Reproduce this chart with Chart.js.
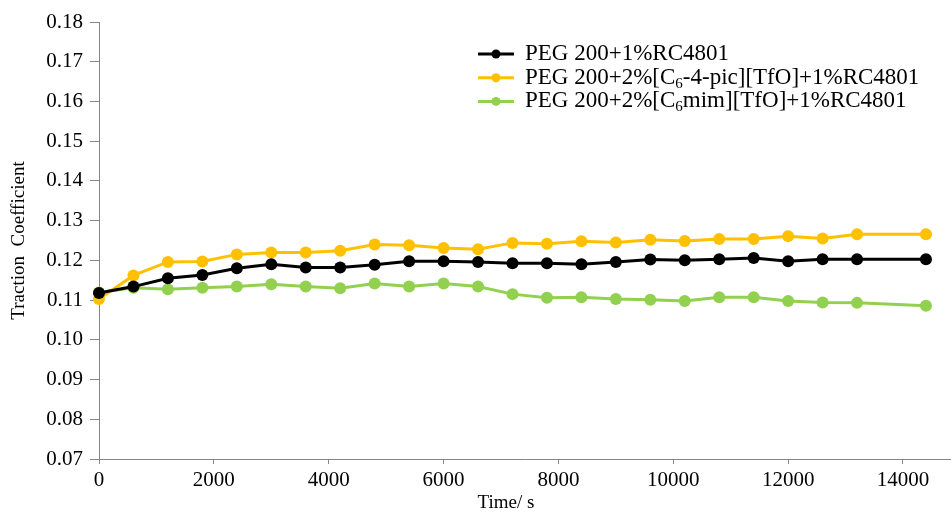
<!DOCTYPE html>
<html>
<head>
<meta charset="utf-8">
<script src="https://cdn.jsdelivr.net/npm/chart.js@4.4.0/dist/chart.umd.min.js"></script>
<style>
  html, body { margin: 0; padding: 0; background: #fff; }
  #wrap { width: 951px; height: 514px; }
</style>
</head>
<body>
<div id="wrap"><canvas id="c" width="951" height="514"></canvas></div>
<script>
// time in seconds (no reading at 13800 s)
const times = [0, 600, 1200, 1800, 2400, 3000, 3600, 4200, 4800, 5400, 6000, 6600,
  7200, 7800, 8400, 9000, 9600, 10200, 10800, 11400, 12000, 12600, 13200, 14400];

const peg = [0.1118, 0.1134, 0.1155, 0.1163, 0.1180, 0.1190, 0.1182, 0.1182, 0.1189, 0.1198, 0.1198, 0.1196,
  0.1193, 0.1193, 0.1190, 0.1196, 0.1202, 0.1200, 0.1203, 0.1206, 0.1198, 0.1203, 0.1203, 0.1203];

const pic = [0.1103, 0.1162, 0.1196, 0.1197, 0.1215, 0.1220, 0.1220, 0.1224, 0.1240, 0.1238, 0.1231, 0.1228,
  0.1244, 0.1242, 0.1248, 0.1245, 0.1252, 0.1249, 0.1254, 0.1254, 0.1261, 0.1255, 0.1266, 0.1266];

const mim = [0.1119, 0.1131, 0.1127, 0.1131, 0.1134, 0.1140, 0.1134, 0.1130, 0.1142, 0.1134, 0.1142, 0.1134,
  0.1115, 0.1106, 0.1107, 0.1103, 0.1101, 0.1098, 0.1107, 0.1107, 0.1098, 0.1094, 0.1093, 0.1086];

// "_{x}" marks a subscript in the legend text
const legendLabels = [
  "PEG 200+1%RC4801",
  "PEG 200+2%[C_{6}-4-pic][TfO]+1%RC4801",
  "PEG 200+2%[C_{6}mim][TfO]+1%RC4801",
];
const colors = ["#000000", "#FFC000", "#92D050"];
const xTicks = [0, 2000, 4000, 6000, 8000, 10000, 12000, 14000];

const serif = "'Liberation Serif', 'Times New Roman', serif";
const axisColor = "#868686";

const series = [peg, pic, mim];

const legendPlugin = {
  id: "excelLegend",
  afterDraw(chart) {
    const ctx = chart.ctx;
    ctx.save();
    legendLabels.forEach((label, i) => {
      const y = 54 + i * 23.7;
      ctx.strokeStyle = colors[i];
      ctx.lineWidth = 3;
      ctx.beginPath();
      ctx.moveTo(478, y);
      ctx.lineTo(514, y);
      ctx.stroke();
      ctx.fillStyle = colors[i];
      ctx.beginPath();
      ctx.arc(496, y, 4.5, 0, Math.PI * 2);
      ctx.fill();

      let x = 525;
      ctx.fillStyle = "#000";
      ctx.textBaseline = "middle";
      label.split(/(_\{[^}]*\})/).forEach((part) => {
        if (!part) return;
        const sub = part.match(/^_\{([^}]*)\}$/);
        if (sub) {
          ctx.font = "15px " + serif;
          ctx.fillText(sub[1], x, y + 6);
          x += ctx.measureText(sub[1]).width;
        } else {
          ctx.font = "23px " + serif;
          ctx.fillText(part, x, y);
          x += ctx.measureText(part).width;
        }
      });
    });
    ctx.restore();
  },
};

new Chart(document.getElementById("c"), {
  type: "line",
  data: {
    datasets: series.map((vals, i) => ({
      label: legendLabels[i].replace("_{6}", "₆"),
      data: vals.map((v, j) => ({ x: times[j], y: v })),
      borderColor: colors[i],
      backgroundColor: colors[i],
      borderWidth: 3,
      pointRadius: 6,
      pointBorderWidth: 0,
      tension: 0,
      clip: false,
    })),
  },
  options: {
    responsive: false,
    animation: false,
    layout: { autoPadding: false, padding: { top: 22, right: 0, left: 0, bottom: 0 } },
    plugins: {
      legend: { display: false },
      tooltip: { enabled: false },
    },
    scales: {
      x: {
        type: "linear",
        min: 0,
        max: 14836,
        afterBuildTicks: (axis) => {
          axis.ticks = xTicks.map((v) => ({ value: v }));
        },
        afterFit: (axis) => {
          axis.height = 55;
        },
        ticks: {
          color: "#000",
          font: { family: serif, size: 21 },
          padding: 4,
          maxRotation: 0,
          autoSkip: false,
          callback: (v) => String(v),
        },
        grid: { drawOnChartArea: false, drawTicks: true, tickLength: 5, color: axisColor },
        border: { display: true, color: axisColor, width: 1 },
        title: {
          display: true,
          text: "Time/ s        ",
          color: "#000",
          font: { family: serif, size: 19 },
          padding: { top: 0, bottom: 0 },
        },
      },
      y: {
        min: 0.07,
        max: 0.18,
        ticks: {
          stepSize: 0.01,
          color: "#000",
          font: { family: serif, size: 21 },
          padding: 7,
          callback: (v) => v.toFixed(2),
        },
        afterFit: (axis) => {
          axis.width = 99;
        },
        grid: { drawOnChartArea: false, drawTicks: true, tickLength: 9, color: axisColor },
        border: { display: true, color: axisColor, width: 1 },
        title: {
          display: true,
          text: "Traction  Coefficient",
          color: "#000",
          font: { family: serif, size: 19 },
          padding: { top: 8, bottom: 0 },
        },
      },
    },
  },
  plugins: [legendPlugin],
});
</script>
</body>
</html>
